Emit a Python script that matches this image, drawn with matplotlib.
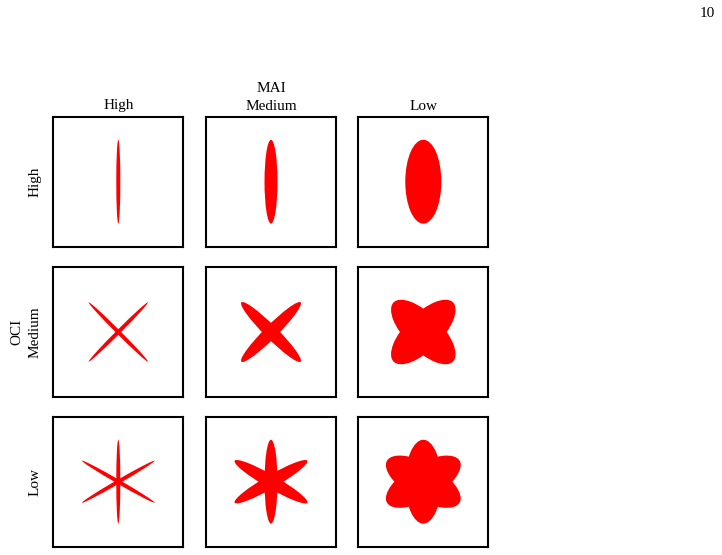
import matplotlib
matplotlib.use("Agg")
import matplotlib.pyplot as plt
from matplotlib.patches import Ellipse

# ---- data ----
mai_levels = ["High", "Medium", "Low"]          # columns
oci_levels = ["High", "Medium", "Low"]          # rows
minor_ratio = [0.048, 0.155, 0.43]              # ellipse thickness per MAI level
petal_angles = [[90], [45, 135], [90, 30, 150]] # ellipse orientations per OCI level
page_number = "10"

plt.rcParams['font.family'] = ['Liberation Serif', 'DejaVu Serif']

W, H = 722, 555
fig = plt.figure(figsize=(W / 100, H / 100), dpi=100)

col_left = [53.3, 206.0, 358.3]
row_top = [116.7, 267.0, 416.7]
size = 130.0
lim = 1.55

for r, angles in enumerate(petal_angles):
    for c, ratio in enumerate(minor_ratio):
        ax = fig.add_axes([col_left[c] / W, 1 - (row_top[r] + size) / H, size / W, size / H])
        for a in angles:
            ax.add_patch(Ellipse((0, 0), width=2.0, height=2.0 * ratio, angle=a,
                                 facecolor="#ff0000", edgecolor="none"))
        ax.set_xlim(-lim, lim)
        ax.set_ylim(-lim, lim)
        ax.set_xticks([])
        ax.set_yticks([])
        for sp in ax.spines.values():
            sp.set_linewidth(1.5)
            sp.set_color("black")

fs = 11
# column labels
for c, lab in enumerate(mai_levels):
    cx = (col_left[c] + size / 2) / W
    fig.text(cx, 1 - 109.5 / H, lab, ha="center", va="baseline", fontsize=fs)
cx = (col_left[1] + size / 2) / W
fig.text(cx, 1 - 91.5 / H, "MAI", ha="center", va="baseline", fontsize=fs)

# row labels
for r, lab in enumerate(oci_levels):
    cy = 1 - (row_top[r] + size / 2) / H
    fig.text(38.5 / W, cy, lab, ha="center", va="baseline", rotation=90,
             rotation_mode="anchor", fontsize=fs)
cy = 1 - (row_top[1] + size / 2) / H
fig.text(20.7 / W, cy, "OCI", ha="center", va="baseline", rotation=90,
         rotation_mode="anchor", fontsize=fs)

# page number
fig.text(715 / W, 1 - 16.7 / H, page_number, ha="right", va="baseline", fontsize=fs)

fig.savefig("out.png", dpi=100)
